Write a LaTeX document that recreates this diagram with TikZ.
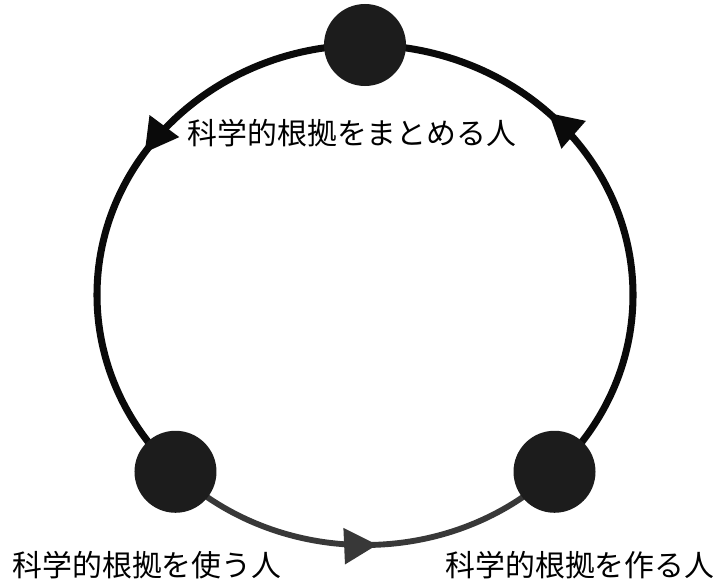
\documentclass[tikz,border=0pt]{standalone}
\usepackage{fontspec}
\newfontfamily\jpfont{Noto Sans CJK JP}
\usetikzlibrary{arrows.meta,positioning,backgrounds,decorations.markings}
\definecolor{dotInk}{RGB}{28,28,28}
\definecolor{ringInk}{RGB}{10,10,10}

\begin{document}
\begin{tikzpicture}[x=0.03cm,y=-0.03cm,
        dot/.style={circle,fill=dotInk,minimum size=2.46cm,inner sep=0pt},
        lbl/.style={font=\jpfont\fontsize{25.5}{30}\selectfont,inner sep=0pt},
        ring/.style={draw=ringInk,line width=6pt,x radius=268,y radius=250},
        tip/.style={postaction={decorate},decoration={markings,
                  mark=at position #1 with {\arrow{Triangle[length=10mm,width=10.5mm]}}}}]
        \useasboundingbox (0,0) rectangle (722,584);
        % persons on the ring, centre (365,295)
        \node[dot] (top)   at ({365+268*cos(-90)},{295+250*sin(-90)}) {};
        \node[dot] (left)  at ({365+268*cos(135)},{295+250*sin(135)}) {};
        \node[dot] (right) at ({365+268*cos(45)},{295+250*sin(45)}) {};
        \begin{scope}[on background layer]
          \draw[ring,tip=0.42] (top.center) arc[start angle=270,end angle=135];
          \draw[ring,tip=0.67] (right.center) arc[start angle=45,end angle=-90];
          \draw[ring,draw=black!78,line width=5pt,tip=0.53]
            (left.center) arc[start angle=135,end angle=45];
        \end{scope}
        \node[lbl] (topl)   at (352,133) {科学的根拠をまとめる人};
        \node[lbl] (leftl)  at (147,565) {科学的根拠を使う人};
        \node[lbl] (rightl) at (580,565) {科学的根拠を作る人};
      \end{tikzpicture}
\end{document}
